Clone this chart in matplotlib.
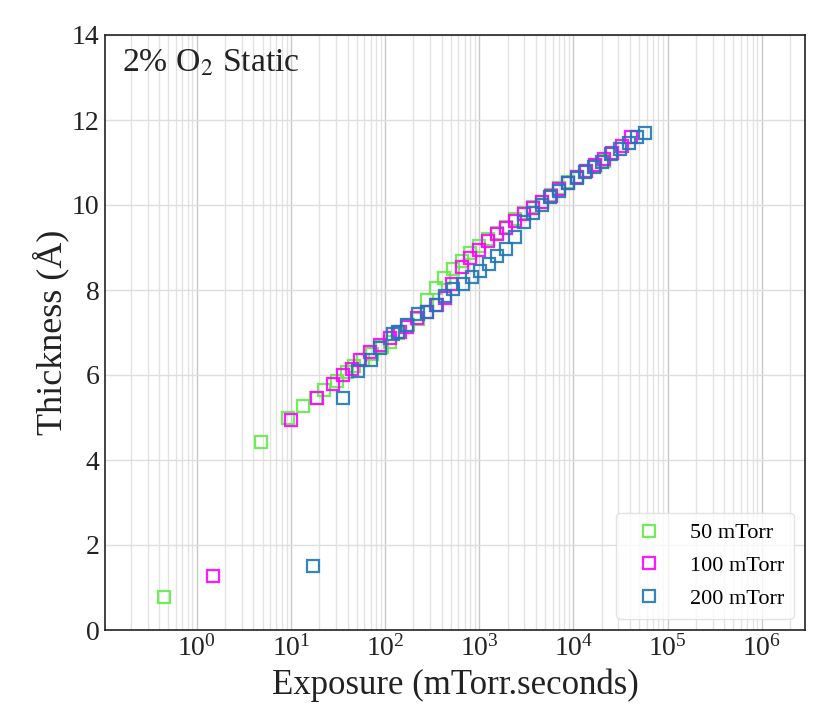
import numpy as np
import matplotlib
matplotlib.use("Agg")
from matplotlib import pyplot as plt

# exposure (mTorr.s) and thickness (A)
exp_50 = [0.45, 4.78, 9.4, 13.5, 18.5, 22.5, 30.6, 39.2, 46.9, 58.6, 72.1, 91.8,
          112.5, 138, 177, 226, 277, 348, 426, 530, 652, 805, 1003, 1250, 1560,
          1930, 2410, 2990, 3700, 4620, 5720, 7060, 8800, 10900, 13600, 16900, 21000]
thk_50 = [0.77, 4.42, 4.98, 5.27, 5.47, 5.64, 5.87, 6.08, 6.21, 6.35, 6.49, 6.67,
          6.78, 7.00, 7.18, 7.31, 7.76, 8.04, 8.29, 8.49, 8.69, 8.86, 9.04, 9.19, 9.35,
          9.49, 9.66, 9.80, 9.96, 10.08, 10.24, 10.40, 10.53, 10.67, 10.80, 10.92, 11.03]

exp_100 = [1.48, 10.1, 18.8, 27.8, 36, 44.5, 54.3, 69, 88.6, 112, 144, 170, 217,
           277, 355, 433, 509, 652, 805, 1003, 1250, 1560, 1930, 2410, 2990, 3700,
           4620, 5720, 7060, 8800, 10900, 13600, 16900, 21000, 26000, 32500, 40900]
thk_100 = [1.26, 4.94, 5.47, 5.78, 6.00, 6.15, 6.35, 6.55, 6.71, 6.87, 7.02, 7.14, 7.33,
           7.49, 7.65, 7.82, 8.15, 8.55, 8.76, 8.95, 9.15, 9.32, 9.47, 9.62, 9.78, 9.93,
           10.08, 10.22, 10.38, 10.52, 10.66, 10.80, 10.93, 11.08, 11.22, 11.40, 11.60]

exp_200 = [17.3, 35.3, 51.9, 70.3, 88.5, 122, 138, 172, 226, 282, 346, 432, 530,
           667, 831, 1015, 1270, 1560, 1940, 2410, 2990, 3730, 4630, 5640, 7030,
           8700, 10900, 13300, 16500, 20300, 25200, 31000, 38600, 47000, 58000]
thk_200 = [1.51, 5.46, 6.10, 6.35, 6.63, 6.96, 7.02, 7.18, 7.44, 7.49, 7.65, 7.86, 8.02,
           8.13, 8.31, 8.45, 8.61, 8.80, 8.97, 9.25, 9.61, 9.82, 10.00, 10.18, 10.34,
           10.51, 10.63, 10.78, 10.90, 11.02, 11.19, 11.31, 11.45, 11.59, 11.70]

labels = ["50 mTorr", "100 mTorr", "200 mTorr"]
colors = ["#62ea48", "#ff00ff", "#1f77b4"]
xticks = [1e0, 1e1, 1e2, 1e3, 1e4, 1e5, 1e6]

plt.rcParams['font.family'] = ['Liberation Serif', 'DejaVu Serif']
plt.rcParams['mathtext.fontset'] = 'stix'

fig = plt.figure(figsize=(8.3, 7.27), dpi=100)
ax = fig.add_axes([105 / 830, 97 / 727, 700 / 830, 595 / 727])

series = [(exp_50, thk_50), (exp_100, thk_100), (exp_200, thk_200)]
for (x, y), lab, c in zip(series, labels, colors):
    ax.plot(x, y, linestyle='none', marker='s', markersize=8.2,
            markerfacecolor='none', markeredgecolor=c, markeredgewidth=1.6,
            alpha=0.9, label=lab)

ax.set_xscale('log')
ax.set_xticks(xticks)
ax.set_xlim(0.106, 2.88e6)
ax.set_ylim(0, 14)
ax.set_yticks(np.arange(0, 15, 2))

ax.grid(which='major', axis='x', color='#c8c8c8', linewidth=1.0)
ax.grid(which='minor', axis='x', color='#e2e2e2', linewidth=1.0)
ax.grid(which='major', axis='y', color='#dedede', linewidth=1.0)
ax.set_axisbelow(True)
ax.tick_params(which='both', length=0, labelsize=20, colors='#222222')
ax.tick_params(axis='x', pad=4)
ax.tick_params(axis='y', pad=4)
for s in ax.spines.values():
    s.set_color('#222222')
    s.set_linewidth(1.2)

ax.set_xlabel('Exposure (mTorr.seconds)', fontsize=25, labelpad=5, color='#222222')
ax.set_ylabel('Thickness (Å)', fontsize=26, labelpad=2, color='#222222')
ax.text(0.024, 0.938, r'2% O$_2$ Static', transform=ax.transAxes,
        fontsize=24.3, va='baseline', ha='left', color='#222222')

ax.legend(loc='lower right', fontsize=16, handletextpad=0.85, borderpad=0.45,
          labelspacing=0.55, framealpha=0.8, edgecolor='#dddddd')

plt.savefig('out.png', dpi=100)
plt.close()
